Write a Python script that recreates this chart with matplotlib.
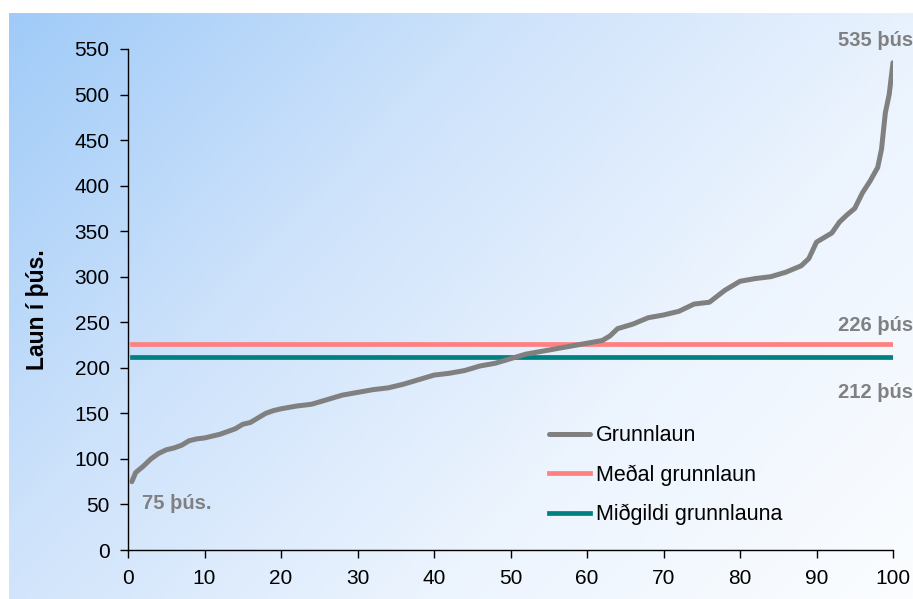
import numpy as np
import matplotlib
matplotlib.use("Agg")
import matplotlib.pyplot as plt
from matplotlib.colors import LinearSegmentedColormap

# Data
pct = [0.5, 1, 2, 3, 4, 5, 6, 7, 8, 9, 10, 11, 12, 13, 14, 15, 16, 17, 18, 19, 20,
       22, 24, 26, 28, 30, 32, 34, 36, 38, 40, 42, 44, 46, 48, 50, 52, 54, 56, 58,
       60, 62, 63, 64, 66, 68, 70, 72, 74, 76, 78, 80, 82, 84, 86, 88, 89, 90, 92,
       93, 94, 95, 96, 97, 98, 98.5, 99, 99.5, 100]
grunnlaun = [75, 85, 92, 100, 106, 110, 112, 115, 120, 122, 123, 125, 127, 130, 133,
             138, 140, 145, 150, 153, 155, 158, 160, 165, 170, 173, 176, 178, 182, 187,
             192, 194, 197, 202, 205, 210, 215, 218, 221, 224, 227, 230, 235, 243, 248,
             255, 258, 262, 270, 272, 285, 295, 298, 300, 305, 312, 320, 338, 348, 360,
             368, 375, 392, 405, 420, 440, 480, 500, 535]
medal = 226
midgildi = 212
line_x = [0.5, 100]
x_ticks = list(range(0, 101, 10))
y_ticks = list(range(0, 551, 50))

plt.rcParams['font.family'] = ['Liberation Sans', 'DejaVu Sans']

W, H = 913, 599
fig = plt.figure(figsize=(W / 100, H / 100), dpi=100)
fig.patch.set_facecolor('white')

# gradient background
bg = fig.add_axes([9 / W, 0, 1 - 9 / W, 1 - 13 / H], zorder=-10)
ny, nx = 200, 300
yy, xx = np.mgrid[0:1:ny * 1j, 0:1:nx * 1j]
t = np.clip((xx * 0.62 + yy * 0.38), 0, 1)
cmap = LinearSegmentedColormap.from_list('g', ['#a0cbf8', '#cde2fb', '#ecf4fe', '#fbfdff'])
bg.imshow(t, cmap=cmap, aspect='auto', extent=[0, 1, 1, 0], interpolation='bilinear')
bg.set_axis_off()

ax = fig.add_axes([128 / W, 1 - 550 / H, (893 - 128) / W, (550 - 49) / H])
ax.patch.set_alpha(0)
ax.plot(pct, grunnlaun, color='#808080', lw=3.6, solid_joinstyle='round', solid_capstyle='round', label='Grunnlaun', zorder=3)
ax.plot(line_x, [medal, medal], color='#ff8080', lw=3.4, label='Meðal grunnlaun', zorder=2)
ax.plot(line_x, [midgildi, midgildi], color='#008080', lw=3.4, label='Miðgildi grunnlauna', zorder=2)

ax.set_xlim(0, 100)
ax.set_ylim(0, 550)
ax.set_xticks(x_ticks)
ax.set_yticks(y_ticks)
for s in ['top', 'right']:
    ax.spines[s].set_visible(False)
for s in ['left', 'bottom']:
    ax.spines[s].set_color('#000000')
    ax.spines[s].set_linewidth(1.0)
ax.tick_params(axis='both', direction='out', length=5.8, width=1, colors='black')
ax.tick_params(axis='y', labelsize=15, pad=7.5)
ax.tick_params(axis='x', labelsize=15, pad=8)

ax.text(-0.118, 0.48, 'Laun í þús.', transform=ax.transAxes, rotation=90,
        ha='center', va='center', fontsize=16.5, fontweight='bold')

ann = dict(color='#808080', fontsize=14.5, fontweight='bold', ha='left', va='center')
ax.text(92.8, 559, '535 þús', **ann)
ax.text(92.8, 246.5, '226 þús', **ann)
ax.text(92.8, 173, '212 þús', **ann)
ax.text(1.85, 51.5, '75 þús.', **ann)

leg = ax.legend(loc='center left', bbox_to_anchor=(0.550, 0.149), frameon=False,
                fontsize=15.5, handlelength=1.9, handletextpad=0.3, labelspacing=0.85,
                borderpad=0, borderaxespad=0)

fig.savefig('out.png', dpi=100)
